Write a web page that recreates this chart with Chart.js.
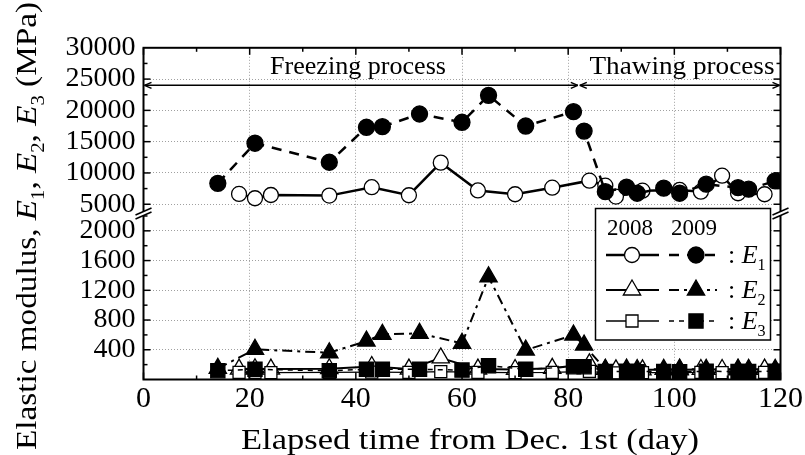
<!DOCTYPE html>
<html lang="en">
<head>
<meta charset="UTF-8">
<title>Elastic modulus during freezing and thawing</title>
<script src="https://cdn.jsdelivr.net/npm/chart.js"></script>
<style>
  body { margin: 0; background: #fff; }
</style>
</head>
<body>
<canvas id="chart" width="805" height="455"></canvas>
<script>
const SERIF = "'Liberation Serif', serif";

// days (elapsed from Dec. 1st)
const days2008 = [18, 21, 24, 35, 43, 50, 56, 63, 70, 77, 84, 87, 89, 94, 101, 105, 109, 112, 117];
const days2009 = [14, 21, 35, 42, 45, 52, 60, 65, 72, 81, 83, 87, 91, 93, 98, 101, 106, 112, 114, 119];

// elastic moduli (MPa)
const e1_2008 = [6650, 5960, 6480, 6380, 7720, 6440, 11650, 7200, 6600, 7650, 8770, 7970, 6220, 7170, 7280, 7010, 9570, 6760, 6600];
const e1_2009 = [8350, 14750, 11710, 17300, 17400, 19420, 18100, 22400, 17500, 19800, 16700, 7010, 7720, 6760, 7560, 6760, 8200, 7650, 7400, 8720];
const e2_2008 = [140, 145, 140, 145, 175, 140, 290, 140, 135, 150, 210, 135, 130, 130, 130, 135, 135, 130, 140];
const e2_2009 = [150, 405, 360, 517, 607, 620, 486, 1380, 396, 597, 463, 137, 140, 135, 137, 140, 137, 140, 138, 137];
const e3_2008 = [95, 95, 92, 95, 100, 95, 105, 95, 92, 95, 110, 90, 90, 92, 92, 95, 92, 90, 95];
const e3_2009 = [118, 137, 118, 137, 137, 137, 127, 185, 137, 172, 172, 107, 110, 105, 108, 105, 110, 108, 108, 110];

const xTicks = [0, 20, 40, 60, 80, 100, 120];
const yUpperTicks = [5000, 10000, 15000, 20000, 25000, 30000];
const yLowerTicks = [400, 800, 1200, 1600, 2000];

const phaseSplit = 82;     // day separating freezing / thawing
const phaseArrowAt = 24000;

function pts(xs, ys) { return xs.map((x, i) => ({ x: x, y: ys[i] })); }

const styles = {
  e1_2008: { pointStyle: 'circle', pointRadius: 7.5, pointBackgroundColor: '#fff', borderWidth: 2.5, borderDash: [] },
  e1_2009: { pointStyle: 'circle', pointRadius: 8, pointBackgroundColor: '#000', borderWidth: 2.5, borderDash: [10, 8] },
  e2_2008: { pointStyle: 'triangle', pointRadius: 10, pointBackgroundColor: '#fff', borderWidth: 2, borderDash: [] },
  e2_2009: { pointStyle: 'triangle', pointRadius: 10, pointBackgroundColor: '#000', borderWidth: 2, borderDash: [10, 5, 3, 5] },
  e3_2008: { pointStyle: 'rect', pointRadius: 8.5, pointBackgroundColor: '#fff', borderWidth: 1.3, borderDash: [] },
  e3_2009: { pointStyle: 'rect', pointRadius: 10, pointBackgroundColor: '#000', borderWidth: 1.5, borderDash: [5, 5] }
};

function ds(label, xs, ys, axis, st, order) {
  return Object.assign({
    label: label,
    data: pts(xs, ys),
    yAxisID: axis,
    borderColor: '#000',
    pointBorderColor: '#000',
    pointBorderWidth: 1.3,
    tension: 0,
    fill: false,
    order: order
  }, st);
}

function richMeasure(ctx, parts, size) {
  let w = 0;
  const out = parts.map(([t, st]) => {
    const fs = st === 's' ? size * 0.62 : size;
    const font = (st === 'i' ? 'italic ' : '') + fs + 'px ' + SERIF;
    ctx.font = font;
    const pw = ctx.measureText(t).width;
    w += pw;
    return { t: t, font: font, w: pw, dy: st === 's' ? size * 0.25 : 0 };
  });
  return { out: out, w: w };
}

// draws mixed-style text; x is centre (or left if alignLeft), y is baseline
function drawRich(ctx, parts, size, x, y, targetW, alignLeft) {
  const m = richMeasure(ctx, parts, size);
  const s = targetW ? targetW / m.w : 1;
  ctx.save();
  ctx.translate(x, y);
  ctx.scale(s, 1);
  ctx.fillStyle = '#000';
  ctx.textAlign = 'left';
  ctx.textBaseline = 'alphabetic';
  let cx = alignLeft ? 0 : -m.w / 2;
  m.out.forEach(p => {
    ctx.font = p.font;
    ctx.fillText(p.t, cx, p.dy);
    cx += p.w;
  });
  ctx.restore();
}

function line(ctx, x1, y1, x2, y2) {
  ctx.beginPath(); ctx.moveTo(x1, y1); ctx.lineTo(x2, y2); ctx.stroke();
}

function arrow(ctx, x1, x2, y) {
  line(ctx, x1, y, x2, y);
  line(ctx, x1, y, x1 + 7, y - 3); line(ctx, x1, y, x1 + 7, y + 3);
  line(ctx, x2, y, x2 - 7, y - 3); line(ctx, x2, y, x2 - 7, y + 3);
}

function breakMark(ctx, x, y) {
  ctx.save();
  ctx.fillStyle = '#fff';
  ctx.beginPath();
  ctx.moveTo(x - 8, y + 2); ctx.lineTo(x + 8, y - 5);
  ctx.lineTo(x + 8, y - 1); ctx.lineTo(x - 8, y + 6);
  ctx.closePath(); ctx.fill();
  ctx.lineWidth = 1.5;
  line(ctx, x - 8, y + 2, x + 8, y - 5);
  line(ctx, x - 8, y + 6, x + 8, y - 1);
  ctx.restore();
}

const decorations = {
  id: 'decorations',
  afterDraw(chart) {
    const ctx = chart.ctx;
    const a = chart.chartArea;
    const sx = chart.scales.x, yU = chart.scales.yU, yL = chart.scales.yL;
    ctx.save();
    ctx.strokeStyle = '#000';

    // frame
    ctx.lineWidth = 2;
    ctx.strokeRect(a.left, a.top, a.right - a.left, a.bottom - a.top);

    // inward ticks
    ctx.lineWidth = 1.5;
    for (let v = 0; v <= 120; v += 10) {
      const px = sx.getPixelForValue(v);
      const len = v % 20 === 0 ? 7 : 4;
      line(ctx, px, a.bottom, px, a.bottom - len);
      line(ctx, px, a.top, px, a.top + len);
    }
    for (let v = 5000; v < 30000; v += 2500) {
      const py = yU.getPixelForValue(v);
      const len = v % 5000 === 0 ? 7 : 4;
      line(ctx, a.left, py, a.left + len, py);
      line(ctx, a.right, py, a.right - len, py);
    }
    for (let v = 200; v <= 2200; v += 200) {
      const py = yL.getPixelForValue(v);
      const len = v % 400 === 0 ? 7 : 4;
      line(ctx, a.left, py, a.left + len, py);
      line(ctx, a.right, py, a.right - len, py);
    }

    // axis breaks
    breakMark(ctx, a.left, yL.top);
    breakMark(ctx, a.right, yL.top);

    // freezing / thawing arrows
    const ay = yU.getPixelForValue(phaseArrowAt);
    const xs = sx.getPixelForValue(phaseSplit);
    ctx.lineWidth = 1.5;
    arrow(ctx, a.left + 1, xs - 1, ay);
    arrow(ctx, xs + 1, a.right - 1, ay);
    drawRich(ctx, [['Freezing process', 'n']], 25, 358, 74, 176);
    drawRich(ctx, [['Thawing process', 'n']], 25, 682, 74, 185);

    // legend
    const L = { x: 595.5, y: 208.5, w: 175, h: 131.5 };
    ctx.fillStyle = '#fff';
    ctx.fillRect(L.x, L.y, L.w, L.h);
    ctx.lineWidth = 1.5;
    ctx.strokeRect(L.x, L.y, L.w, L.h);
    drawRich(ctx, [['2008', 'n']], 23, 630, 235, 46);
    drawRich(ctx, [['2009', 'n']], 23, 694, 235, 46);
    const rows = [
      { y: 255, a: styles.e1_2008, b: styles.e1_2009, sub: '1' },
      { y: 290, a: styles.e2_2008, b: styles.e2_2009, sub: '2' },
      { y: 321, a: styles.e3_2008, b: styles.e3_2009, sub: '3' }
    ];
    rows.forEach(r => {
      [[r.a, 606, 659, 632], [r.b, 669, 717, 696]].forEach(([st, x1, x2, mx]) => {
        ctx.save();
        ctx.lineWidth = st.borderWidth;
        ctx.setLineDash(st.borderDash);
        line(ctx, x1, r.y, x2, r.y);
        ctx.restore();
        ctx.save();
        ctx.fillStyle = st.pointBackgroundColor;
        ctx.strokeStyle = '#000';
        ctx.lineWidth = 1.3;
        Chart.helpers.drawPoint(ctx, { pointStyle: st.pointStyle, radius: st.pointRadius, rotation: 0, borderWidth: 1.3 }, mx, r.y);
        ctx.restore();
      });
      drawRich(ctx, [[': ', 'n'], ['E', 'i'], [r.sub, 's']], 26, 728, r.y + 8, 0, true);
    });

    // axis titles
    drawRich(ctx, [['Elapsed time from Dec. 1st (day)', 'n']], 30, 470, 449, 458);
    ctx.save();
    ctx.translate(36, 226);
    ctx.rotate(-Math.PI / 2);
    drawRich(ctx, [
      ['Elastic modulus, ', 'n'], ['E', 'i'], ['1', 's'], [', ', 'n'],
      ['E', 'i'], ['2', 's'], [', ', 'n'], ['E', 'i'], ['3', 's'], [' (MPa)', 'n']
    ], 30, 0, 0, 448);
    ctx.restore();

    ctx.restore();
  }
};

function gridColor(hidden) {
  return c => (c.tick && hidden.indexOf(c.tick.value) >= 0) ? 'rgba(0,0,0,0)' : '#a0a0a0';
}

new Chart(document.getElementById('chart'), {
  type: 'line',
  data: {
    datasets: [
      ds('E1 2009', days2009, e1_2009, 'yU', styles.e1_2009, 0),
      ds('E3 2009', days2009, e3_2009, 'yL', styles.e3_2009, 1),
      ds('E3 2008', days2008, e3_2008, 'yL', styles.e3_2008, 2),
      ds('E2 2009', days2009, e2_2009, 'yL', styles.e2_2009, 3),
      ds('E2 2008', days2008, e2_2008, 'yL', styles.e2_2008, 4),
      ds('E1 2008', days2008, e1_2008, 'yU', styles.e1_2008, 5)
    ]
  },
  options: {
    responsive: false,
    animation: false,
    events: [],
    layout: { padding: { left: 0, right: 22.5, top: 47.8, bottom: 0 } },
    plugins: { legend: { display: false }, tooltip: { enabled: false } },
    scales: {
      x: {
        type: 'linear', position: 'bottom', min: 0, max: 120,
        afterBuildTicks: s => { s.ticks = xTicks.map(v => ({ value: v })); },
        afterFit: s => { s.height = 75.5; },
        ticks: { font: { family: SERIF, size: 30 }, color: '#000', padding: 2, maxRotation: 0, autoSkip: false, callback: v => String(v) },
        grid: { color: gridColor([0, 120]), lineWidth: 1, drawTicks: false },
        border: { display: false, dash: [1, 2] }
      },
      yU: {
        type: 'linear', position: 'left', stack: 'y', stackWeight: 165.2, weight: 1,
        min: 3600, max: 30000,
        afterBuildTicks: s => { s.ticks = yUpperTicks.map(v => ({ value: v })); },
        afterFit: s => { s.width = 143.5; },
        ticks: { font: { family: SERIF, size: 28 }, color: '#000', padding: 8, autoSkip: false, callback: v => String(v) },
        grid: { color: gridColor([30000]), lineWidth: 1, drawTicks: false },
        border: { display: false, dash: [1, 2] }
      },
      yL: {
        type: 'linear', position: 'left', stack: 'y', stackWeight: 166.5, weight: 0,
        min: 0, max: 2240,
        afterBuildTicks: s => { s.ticks = yLowerTicks.map(v => ({ value: v })); },
        afterFit: s => { s.width = 143.5; },
        ticks: { font: { family: SERIF, size: 28 }, color: '#000', padding: 8, autoSkip: false, callback: v => String(v) },
        grid: { color: gridColor([]), lineWidth: 1, drawTicks: false },
        border: { display: false, dash: [1, 2] }
      }
    }
  },
  plugins: [decorations]
});
</script>
</body>
</html>
